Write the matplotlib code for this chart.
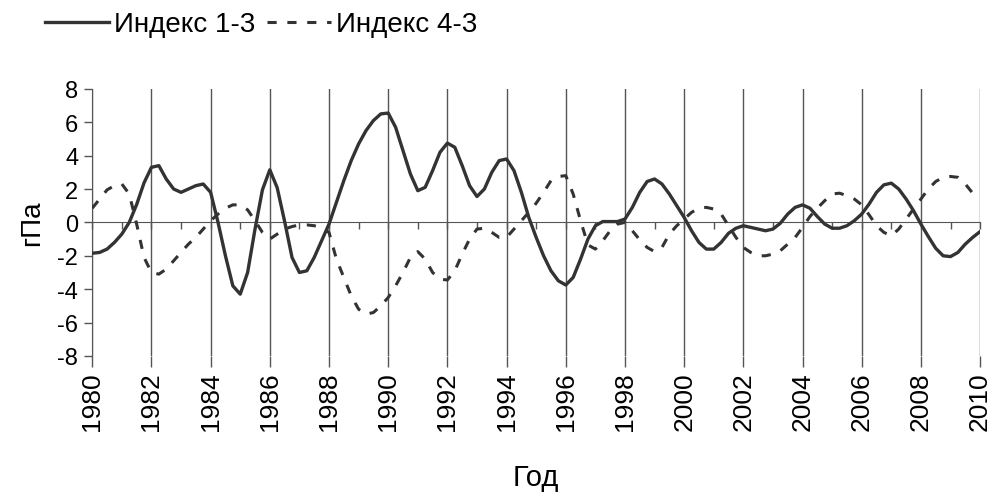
import numpy as np
import matplotlib
matplotlib.use("Agg")
import matplotlib.pyplot as plt

plt.rcParams['font.family'] = ['Liberation Sans', 'DejaVu Sans']
plt.rcParams['axes.unicode_minus'] = False

# readings every quarter of a year, 1980 .. 2010 (one row = one year)
years = np.arange(1980, 2010.01, 0.25)

index_13 = [
    -1.85, -1.8, -1.6, -1.2,     # 1980
    -0.7, 0.0, 1.07, 2.37,       # 1981
    3.3, 3.4, 2.6, 2.0,          # 1982
    1.8, 2.0, 2.2, 2.3,          # 1983
    1.8, 0.0, -2.0, -3.8,        # 1984
    -4.3, -3.0, -0.4, 1.95,      # 1985
    3.15, 2.07, 0.06, -2.1,      # 1986
    -3.0, -2.9, -2.1, -1.1,      # 1987
    -0.1, 1.2, 2.5, 3.7,         # 1988
    4.7, 5.5, 6.1, 6.5,          # 1989
    6.55, 5.7, 4.3, 2.9,         # 1990
    1.9, 2.1, 3.1, 4.2,          # 1991
    4.75, 4.5, 3.4, 2.2,         # 1992
    1.55, 2.0, 3.0, 3.7,         # 1993
    3.8, 3.1, 1.8, 0.3,          # 1994
    -0.9, -2.0, -2.9, -3.5,      # 1995
    -3.75, -3.3, -2.2, -1.0,     # 1996
    -0.2, 0.05, 0.05, 0.05,      # 1997
    0.2, 0.9, 1.8, 2.45,         # 1998
    2.6, 2.3, 1.7, 1.0,          # 1999
    0.3, -0.5, -1.2, -1.6,       # 2000
    -1.6, -1.2, -0.65, -0.35,    # 2001
    -0.2, -0.3, -0.4, -0.5,      # 2002
    -0.4, -0.05, 0.5, 0.9,       # 2003
    1.05, 0.85, 0.35, -0.1,      # 2004
    -0.35, -0.35, -0.2, 0.1,     # 2005
    0.5, 1.1, 1.8, 2.25,         # 2006
    2.35, 2.0, 1.4, 0.7,         # 2007
    -0.1, -0.85, -1.55, -2.0,    # 2008
    -2.05, -1.8, -1.3, -0.9,     # 2009
    -0.55,                       # 2010
]

index_43 = [
    0.85, 1.4, 1.95, 2.2,        # 1980
    2.3, 1.7, -0.1, -2.1,        # 1981
    -3.0, -3.1, -2.8, -2.3,      # 1982
    -1.8, -1.3, -0.9, -0.4,      # 1983
    0.1, 0.5, 0.85, 1.05,        # 1984
    1.05, 0.75, 0.1, -0.6,       # 1985
    -1.0, -0.7, -0.4, -0.25,     # 1986
    -0.15, -0.15, -0.2, -0.3,    # 1987
    -0.6, -2.2, -3.3, -4.4,      # 1988
    -5.2, -5.5, -5.4, -5.0,      # 1989
    -4.5, -3.8, -3.0, -2.1,      # 1990
    -1.75, -2.2, -3.0, -3.4,     # 1991
    -3.45, -2.9, -1.9, -1.0,     # 1992
    -0.4, -0.35, -0.6, -0.9,     # 1993
    -0.9, -0.4, 0.1, 0.6,        # 1994
    1.15, 1.8, 2.5, 2.75,        # 1995
    2.8, 1.7, 0.1, -1.35,        # 1996
    -1.6, -1.1, -0.5, -0.1,      # 1997
    0.0, -0.5, -1.05, -1.5,      # 1998
    -1.75, -1.5, -0.7, -0.2,     # 1999
    0.2, 0.6, 0.85, 0.9,         # 2000
    0.8, 0.5, -0.2, -0.9,        # 2001
    -1.5, -1.8, -2.0, -2.0,      # 2002
    -1.9, -1.7, -1.3, -0.9,      # 2003
    -0.3, 0.35, 0.85, 1.3,       # 2004
    1.7, 1.75, 1.6, 1.4,         # 2005
    1.05, 0.45, -0.2, -0.6,      # 2006
    -0.8, -0.4, 0.2, 0.8,        # 2007
    1.4, 2.0, 2.45, 2.7,         # 2008
    2.75, 2.7, 2.3, 1.75,        # 2009
    1.45,                        # 2010
]

major_years = list(range(1980, 2011, 2))
all_years = list(range(1980, 2011))
y_ticks = list(range(-8, 9, 2))

ink = '#333333'
grid_col = '#555555'

fig = plt.figure(figsize=(9.92, 5.02), dpi=100)
ax = fig.add_axes([0.093, 0.289, 0.895, 0.532])

ax.plot(years, index_13, color=ink, lw=2.4, label='Индекс 1-3', zorder=3)
ax.plot(years, index_43, color=ink, lw=2.2, dashes=(3, 3.5),
        label='Индекс 4-3', zorder=3)

ax.set_xlim(1980, 2010)
ax.set_ylim(-8, 8)

ax.set_xticks(major_years)
ax.set_xticklabels([str(y) for y in major_years], rotation=90)
ax.set_yticks(y_ticks)

ax.grid(axis='x', color=grid_col, lw=1)
ax.tick_params(axis='x', direction='out', length=8, width=1, color=grid_col,
               labelsize=19, pad=3)
ax.tick_params(axis='y', direction='out', length=6, width=1, color=grid_col,
               labelsize=17, pad=4)

for side in ['top', 'right', 'bottom']:
    ax.spines[side].set_visible(False)
ax.spines['left'].set_color(grid_col)

# horizontal axis drawn through zero, with a tick at every year
zero = ax.secondary_xaxis(0.5)
zero.set_alignment('bottom')
zero.set_xticks(all_years)
zero.tick_params(direction='out', length=5, width=1, color=grid_col,
                 labelbottom=False, labeltop=False)
zero.spines['bottom'].set_color(grid_col)

ax.set_xlabel('Год', fontsize=21, labelpad=24)
ax.set_ylabel('гПа', fontsize=20, labelpad=9)

fig.legend(loc='upper left', bbox_to_anchor=(0.02, 1.025), ncol=2,
           frameon=False, fontsize=20, handlelength=2.3,
           handletextpad=0.2, columnspacing=0.4)

fig.savefig('out.png', dpi=100, facecolor='white')
